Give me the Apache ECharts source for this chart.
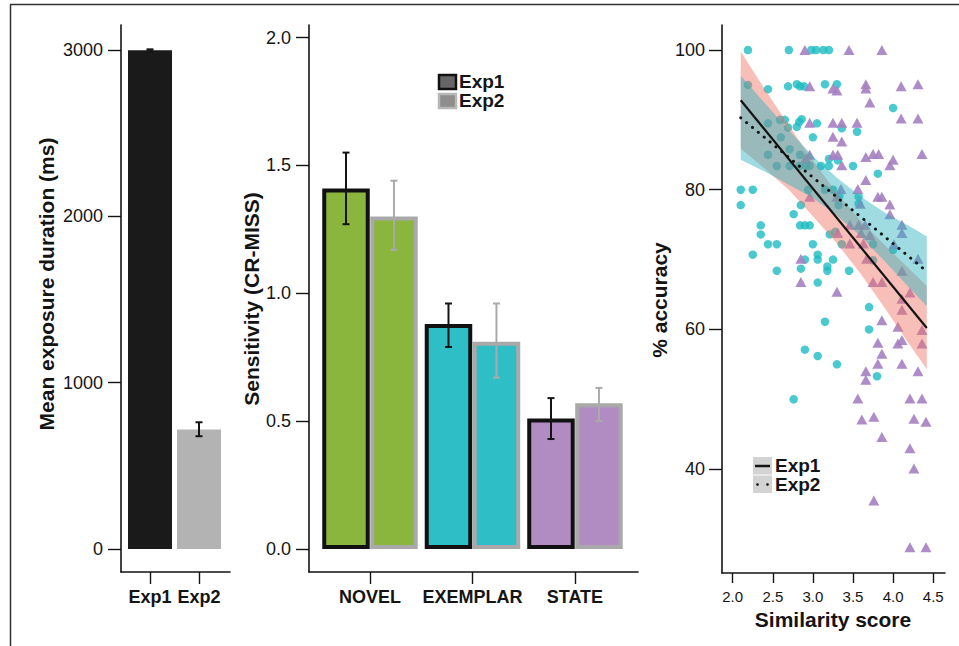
<!DOCTYPE html>
<html><head><meta charset="utf-8">
<script src="https://cdn.jsdelivr.net/npm/echarts@6.0.0/dist/echarts.min.js"></script>
<style>html,body{margin:0;padding:0;background:#fff;}#chart{width:959px;height:646px;}</style>
</head><body><div id="chart"></div>
<script>
const FONT = '"Liberation Sans", Arial, Helvetica, sans-serif';

// ---------- Panel 1: exposure duration ----------
const durCategories = ['Exp1', 'Exp2'];
const durMeans = [2998, 718];
const durLow = [2992, 678];
const durHigh = [3004, 762];
const durTicks = [0, 1000, 2000, 3000];

// ---------- Panel 2: sensitivity ----------
const condCategories = ['NOVEL', 'EXEMPLAR', 'STATE'];
const sensExp1 = [1.41, 0.88, 0.51];
const sensExp1Low = [1.27, 0.79, 0.43];
const sensExp1High = [1.55, 0.96, 0.59];
const sensExp2 = [1.30, 0.81, 0.57];
const sensExp2Low = [1.17, 0.67, 0.50];
const sensExp2High = [1.44, 0.96, 0.63];
const sensTicks = [0, 0.5, 1.0, 1.5, 2.0];

// ---------- Panel 3: accuracy vs similarity ----------
const simTicks = [2.0, 2.5, 3.0, 3.5, 4.0, 4.5];
const accTicks = [40, 60, 80, 100];
const circlePts = [
 [2.19,100],[2.70,100],[2.98,100],[3.04,100],[3.13,100],[3.20,100],
 [2.19,95.0],[2.44,94.4],[2.69,94.8],[2.80,95.1],[2.84,94.8],[2.89,94.8],[3.15,95.1],[3.30,95.1],
 [4.00,91.7],
 [2.44,89.5],[2.59,90.0],[2.65,90.0],[2.69,88.9],[2.80,89.0],[2.83,89.7],[2.86,90.1],[3.05,89.5],[3.36,88.8],[3.55,88.3],
 [2.60,87.5],[3.00,87.5],
 [2.71,85.8],[2.44,85.0],[2.84,85.0],[3.20,84.4],[3.31,84.2],
 [2.55,83.4],[2.71,83.4],[2.83,83.4],[2.91,83.4],[2.96,83.4],[3.10,83.4],[3.20,83.4],[3.50,83.4],
 [3.81,82.3],
 [2.10,80.0],[2.25,80.0],[2.94,80.0],[3.15,80.0],[3.25,80.0],
 [3.33,79.1],[3.57,79.0],[3.32,77.8],[3.57,78.0],
 [2.10,77.8],[2.85,77.8],[2.76,76.5],
 [2.35,74.9],[2.35,73.6],[2.84,74.9],[2.90,74.9],[2.96,74.9],
 [2.44,72.2],[2.55,72.2],[3.00,72.2],[3.21,73.6],[3.28,74.0],[3.36,72.2],[3.75,72.2],[4.00,71.4],
 [2.25,70.7],[3.06,70.7],[3.06,70.0],[2.90,70.0],[3.25,70.0],[3.75,69.9],
 [2.85,68.7],[3.18,69.0],[3.18,68.4],[2.55,68.4],[3.45,68.4],
 [3.06,66.7],
 [3.70,63.2],[3.15,61.1],[3.70,60.0],
 [2.90,57.1],[3.06,56.2],[3.30,55.0],[3.80,53.3],[2.76,50.0]
];
const trianglePts = [
 [2.90,100],[3.45,100],[3.86,100],
 [2.96,94.8],[3.25,94.5],[3.30,94.2],[3.66,95.1],[3.66,94.5],[4.10,94.8],[4.31,95.1],
 [3.71,92.5],
 [2.96,89.6],[3.25,89.6],[3.36,89.6],[3.55,89.6],[4.10,90.2],[4.31,90.2],
 [3.25,87.6],[3.36,86.9],
 [2.91,84.5],[2.96,85.0],[3.25,85.0],[3.31,85.0],[3.66,84.7],[3.75,85.1],[3.82,85.1],[4.00,84.3],[4.36,85.1],
 [3.36,83.5],[3.96,83.5],
 [3.66,81.4],
 [3.56,80.1],[3.35,80.1],
 [2.96,79.0],[3.30,79.0],[3.81,79.0],[3.86,79.0],
 [3.59,78.0],[3.96,77.9],[3.96,76.5],
 [3.46,75.0],[3.57,75.0],[3.65,75.0],[4.11,75.0],
 [4.11,73.8],[3.60,73.8],[3.71,73.5],[3.31,73.8],
 [3.46,72.3],[3.63,72.3],[4.01,72.2],
 [2.85,70.1],[3.67,70.1],[4.31,70.1],
 [4.11,68.4],
 [2.85,66.8],[3.75,66.8],[3.86,66.8],
 [3.30,65.4],[4.11,64.4],[4.21,65.3],
 [4.11,62.8],[3.86,61.3],[4.06,60.4],[4.36,59.9],
 [3.81,58.1],[4.06,58.0],[4.11,58.5],[4.36,58.0],
 [3.86,56.5],[3.81,55.1],[4.11,55.1],
 [4.31,54.0],[3.66,54.0],[3.66,52.8],
 [3.56,50.1],[4.21,50.1],[4.36,50.1],
 [3.61,47.1],[3.76,47.5],[4.26,47.2],[4.41,46.8],
 [3.86,44.6],[4.21,43.0],[4.26,40.1],[3.76,35.5],[4.21,28.8],[4.41,28.8]
];
const fitX = [2.10, 4.42];
const exp1Fit = [92.8, 60.2];
const exp2Fit = [90.3, 68.3];
const bandX = [2.10, 2.40, 2.70, 3.00, 3.30, 3.60, 3.90, 4.20, 4.42];
const exp1BandLow  = [85.9, 83.0, 80.0, 76.2, 72.3, 67.9, 63.0, 57.9, 54.3];
const exp1BandHigh = [99.8, 94.4, 89.2, 84.2, 79.5, 75.5, 72.0, 68.7, 66.2];
const exp2BandLow  = [84.3, 82.6, 80.7, 78.8, 76.3, 73.3, 69.7, 66.0, 63.3];
const exp2BandHigh = [96.3, 92.4, 88.5, 84.8, 81.7, 79.0, 76.7, 74.8, 73.3];

// ---------- helpers ----------
const INK = '#141414';
function axisLine() { return {show: true, onZero: false, lineStyle: {color: INK, width: 1.6}}; }
function ticks(vals, len) { return {show: true, customValues: vals, length: len, lineStyle: {color: INK, width: 1.4}}; }

function errorSeries(gi, xs, lo, hi, color, capHalf, z) {
  return {
    type: 'custom', xAxisIndex: gi, yAxisIndex: gi, z: z, silent: true,
    data: xs.map((x, i) => [x, lo[i], hi[i]]),
    encode: {x: 0, y: [1, 2]},
    renderItem: function (params, api) {
      const x = api.value(0);
      const a = api.coord([x, api.value(1)]);
      const b = api.coord([x, api.value(2)]);
      const st = {stroke: color, lineWidth: 2};
      return {type: 'group', children: [
        {type: 'line', shape: {x1: a[0], y1: a[1], x2: b[0], y2: b[1]}, style: st},
        {type: 'line', shape: {x1: a[0] - capHalf, y1: a[1], x2: a[0] + capHalf, y2: a[1]}, style: st},
        {type: 'line', shape: {x1: b[0] - capHalf, y1: b[1], x2: b[0] + capHalf, y2: b[1]}, style: st}
      ]};
    }
  };
}

function bandSeries(xs, lo, hi, color, z) {
  return {
    type: 'custom', xAxisIndex: 2, yAxisIndex: 2, z: z, silent: true,
    data: xs.map((x, i) => [x, lo[i], hi[i]]),
    encode: {x: 0, y: [1, 2]},
    renderItem: function (params, api) {
      if (params.dataIndexInside !== 0) return null;
      const n = params.dataInsideLength;
      const up = [], dn = [];
      for (let j = 0; j < n; j++) {
        const x = api.value(0, j);
        up.push(api.coord([x, api.value(2, j)]));
        dn.push(api.coord([x, api.value(1, j)]));
      }
      return {type: 'polygon', shape: {points: up.concat(dn.reverse())}, style: {fill: color}};
    }
  };
}

const condColors = ['#8bb63e', '#2ebfc6', '#b08cc2'];
const OFF = 0.234;

const option = {
  backgroundColor: '#ffffff',
  animation: false,
  textStyle: {fontFamily: FONT},
  grid: [
    {left: 121, top: 25, width: 109, height: 547, outerBoundsMode: 'none'},
    {left: 309, top: 25, width: 329, height: 547, outerBoundsMode: 'none'},
    {left: 722, top: 25, width: 223, height: 548, outerBoundsMode: 'none'}
  ],
  xAxis: [
    {gridIndex: 0, type: 'value', min: 0.408, max: 2.633, position: 'bottom',
     axisLine: axisLine(), axisTick: ticks([1, 2], 12), splitLine: {show: false},
     axisLabel: {customValues: [1, 2], formatter: v => durCategories[Math.round(v) - 1],
       color: INK, fontFamily: FONT, fontWeight: 'bold', fontSize: 18, margin: 16}},
    {gridIndex: 1, type: 'value', min: 0.405, max: 3.615, position: 'bottom',
     axisLine: axisLine(), axisTick: ticks([1, 2, 3], 12), splitLine: {show: false},
     axisLabel: {customValues: [1, 2, 3], formatter: v => condCategories[Math.round(v) - 1],
       color: INK, fontFamily: FONT, fontWeight: 'bold', fontSize: 18, margin: 16}},
    {gridIndex: 2, type: 'value', min: 1.8666, max: 4.647, position: 'bottom',
     axisLine: axisLine(), axisTick: ticks(simTicks, 10), splitLine: {show: false},
     axisLabel: {customValues: simTicks, formatter: v => v.toFixed(1),
       color: INK, fontFamily: FONT, fontSize: 15, margin: 16}}
  ],
  yAxis: [
    {gridIndex: 0, type: 'value', min: -138.3, max: 3150.3, position: 'left',
     axisLine: axisLine(), axisTick: ticks(durTicks, 13), splitLine: {show: false},
     axisLabel: {customValues: durTicks, formatter: v => String(v),
       color: INK, fontFamily: FONT, fontSize: 18, margin: 18}},
    {gridIndex: 1, type: 'value', min: -0.0899, max: 2.0489, position: 'left',
     axisLine: axisLine(), axisTick: ticks(sensTicks, 13), splitLine: {show: false},
     axisLabel: {customValues: sensTicks, formatter: v => v.toFixed(1),
       color: INK, fontFamily: FONT, fontSize: 18, margin: 18}},
    {gridIndex: 2, type: 'value', min: 25.13, max: 103.58, position: 'left',
     axisLine: axisLine(), axisTick: ticks(accTicks, 13), splitLine: {show: false},
     axisLabel: {customValues: accTicks, formatter: v => String(v),
       color: INK, fontFamily: FONT, fontSize: 18, margin: 17}}
  ],
  series: [
    // panel 1
    {type: 'bar', xAxisIndex: 0, yAxisIndex: 0, barWidth: 44, z: 2,
     data: durCategories.map((c, i) => ({value: [i + 1, durMeans[i]], itemStyle: {color: ['#1a1a1a', '#b3b3b3'][i]}}))},
    errorSeries(0, durCategories.map((c, i) => i + 1), durLow, durHigh, INK, 3.5, 5),
    // panel 2
    {type: 'bar', name: 'Exp2', xAxisIndex: 1, yAxisIndex: 1, barWidth: 47.5, barGap: '-100%', z: 2,
     itemStyle: {borderColor: '#a9a9a9', borderWidth: 4},
     data: condCategories.map((c, i) => ({value: [i + 1 + OFF, sensExp2[i]], itemStyle: {color: condColors[i]}}))},
    {type: 'bar', name: 'Exp1', xAxisIndex: 1, yAxisIndex: 1, barWidth: 47.5, barGap: '-100%', z: 3,
     itemStyle: {borderColor: '#111111', borderWidth: 4},
     data: condCategories.map((c, i) => ({value: [i + 1 - OFF, sensExp1[i]], itemStyle: {color: condColors[i]}}))},
    errorSeries(1, condCategories.map((c, i) => i + 1 + OFF), sensExp2Low, sensExp2High, '#aaaaaa', 3.5, 5),
    errorSeries(1, condCategories.map((c, i) => i + 1 - OFF), sensExp1Low, sensExp1High, INK, 3.5, 6),
    // panel 3
    {type: 'scatter', xAxisIndex: 2, yAxisIndex: 2, z: 2, symbol: 'circle', symbolSize: 8.5,
     itemStyle: {color: '#1dbdc2'}, data: circlePts},
    {type: 'scatter', xAxisIndex: 2, yAxisIndex: 2, z: 2, symbol: 'triangle', symbolSize: [11, 10],
     itemStyle: {color: '#a57fc1', opacity: 0.9}, data: trianglePts},
    bandSeries(bandX, exp1BandLow, exp1BandHigh, 'rgba(240,112,100,0.45)', 3),
    bandSeries(bandX, exp2BandLow, exp2BandHigh, 'rgba(40,178,188,0.45)', 3),
    {type: 'line', xAxisIndex: 2, yAxisIndex: 2, z: 4, showSymbol: false, symbol: 'none', silent: true,
     lineStyle: {color: INK, width: 2.2}, data: fitX.map((x, i) => [x, exp1Fit[i]])},
    {type: 'line', xAxisIndex: 2, yAxisIndex: 2, z: 4, showSymbol: false, symbol: 'none', silent: true,
     lineStyle: {color: INK, width: 3, type: [0.1, 7.5], cap: 'round'}, data: fitX.map((x, i) => [x, exp2Fit[i]])}
  ],
  graphic: [
    // frame
    {type: 'line', shape: {x1: 10, y1: 4.5, x2: 959, y2: 4.5}, style: {stroke: '#333', lineWidth: 1.5}},
    {type: 'line', shape: {x1: 10.5, y1: 4.5, x2: 10.5, y2: 646}, style: {stroke: '#333', lineWidth: 1.5}},
    // axis titles
    {type: 'text', x: 46, y: 284, rotation: Math.PI / 2,
     style: {text: 'Mean exposure duration (ms)', font: 'bold 21px ' + FONT, fill: INK, textAlign: 'center', textVerticalAlign: 'middle'}},
    {type: 'text', x: 251, y: 299, rotation: Math.PI / 2,
     style: {text: 'Sensitivity (CR-MISS)', font: 'bold 21px ' + FONT, fill: INK, textAlign: 'center', textVerticalAlign: 'middle'}},
    {type: 'text', x: 659, y: 300, rotation: Math.PI / 2,
     style: {text: '% accuracy', font: 'bold 21px ' + FONT, fill: INK, textAlign: 'center', textVerticalAlign: 'middle'}},
    {type: 'text', x: 833, y: 619,
     style: {text: 'Similarity score', font: 'bold 21px ' + FONT, fill: INK, textAlign: 'center', textVerticalAlign: 'middle'}},
    // panel 2 legend
    {type: 'rect', shape: {x: 439, y: 75, width: 17, height: 14}, style: {fill: '#666', stroke: '#111', lineWidth: 2.5}},
    {type: 'rect', shape: {x: 439, y: 94, width: 17, height: 14}, style: {fill: '#8e8e8e', stroke: '#b8b8b8', lineWidth: 2.5}},
    {type: 'text', x: 459, y: 81.5, style: {text: 'Exp1', font: 'bold 19px ' + FONT, fill: INK, textAlign: 'left', textVerticalAlign: 'middle'}},
    {type: 'text', x: 459, y: 100.5, style: {text: 'Exp2', font: 'bold 19px ' + FONT, fill: INK, textAlign: 'left', textVerticalAlign: 'middle'}},
    // panel 3 legend
    {type: 'rect', shape: {x: 753, y: 457, width: 19, height: 17.5}, style: {fill: '#d3d3d3'}},
    {type: 'rect', shape: {x: 753, y: 475.5, width: 19, height: 17.5}, style: {fill: '#d3d3d3'}},
    {type: 'line', shape: {x1: 755, y1: 466, x2: 770, y2: 466}, style: {stroke: INK, lineWidth: 2.5}},
    {type: 'circle', shape: {cx: 757.5, cy: 484.5, r: 1.3}, style: {fill: INK}},
    {type: 'circle', shape: {cx: 767.5, cy: 484.5, r: 1.3}, style: {fill: INK}},
    {type: 'text', x: 775, y: 465.5, style: {text: 'Exp1', font: 'bold 19px ' + FONT, fill: INK, textAlign: 'left', textVerticalAlign: 'middle'}},
    {type: 'text', x: 775, y: 484.5, style: {text: 'Exp2', font: 'bold 19px ' + FONT, fill: INK, textAlign: 'left', textVerticalAlign: 'middle'}}
  ]
};

const chart = echarts.init(document.getElementById('chart'), null, {renderer: 'svg'});
chart.setOption(option);
</script>
</body></html>
